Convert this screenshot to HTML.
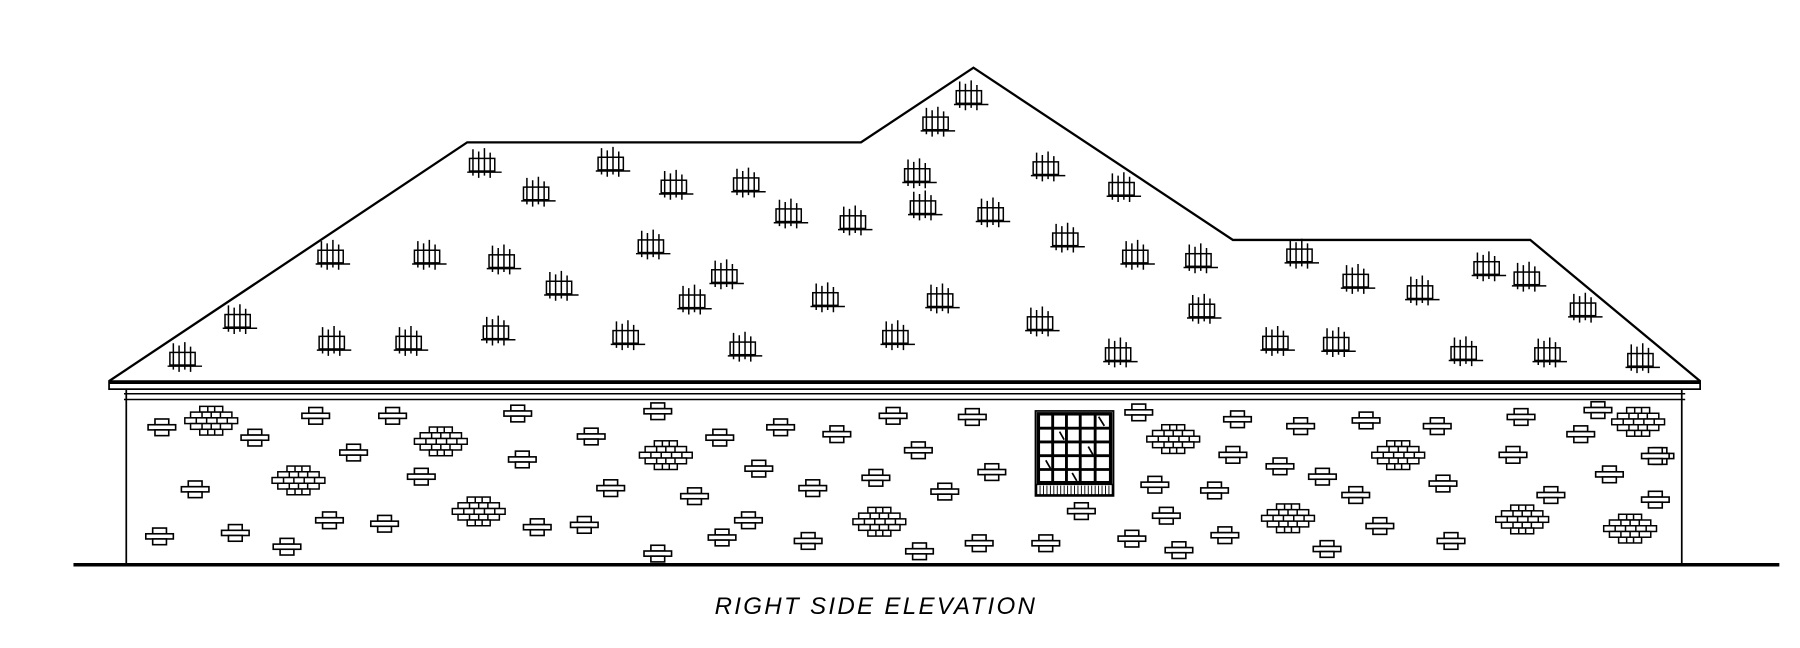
<!DOCTYPE html>
<html><head><meta charset="utf-8"><style>
html,body{margin:0;padding:0;background:#fff;}
svg{display:block;}
</style></head><body>
<svg width="1800" height="648" viewBox="0 0 1568 564.5" preserveAspectRatio="none" xmlns="http://www.w3.org/2000/svg">
<defs>
<g id="sh" fill="none" stroke="#000" stroke-width="1.3">
<rect x="-12" y="-5" width="22" height="11" fill="#fff"/>
<path d="M-9 -13V10 M-4 -11V12 M1 -14V10 M6 -10V12 M-14 7H16"/>
</g>
<g id="b" fill="#fff" stroke="#000" stroke-width="1.4">
<rect x="-6" y="-7" width="12" height="5"/>
<rect x="-12" y="-2" width="24" height="4.5"/>
<rect x="-6" y="2.5" width="12" height="5"/>
</g>
<g id="c" fill="#fff" stroke="#000" stroke-width="1.3">
<rect x="-10" y="-13" width="20" height="5"/>
<rect x="-18" y="-8" width="36" height="5"/>
<rect x="-23" y="-3" width="46" height="5"/>
<rect x="-18" y="2" width="36" height="5"/>
<rect x="-10" y="7" width="20" height="5"/>
<path d="M-3 -13v5 M3 -13v5 M-8 -8v5 M0 -8v5 M8 -8v5 M-13 -3v5 M-4 -3v5 M5 -3v5 M14 -3v5 M-8 2v5 M0 2v5 M8 2v5 M-3 7v5 M3 7v5"/>
</g>
</defs>
<!-- roof -->
<polyline points="95,332 407,124 750,124 848,59 1074,209 1333,209 1481,332" fill="none" stroke="#000" stroke-width="2"/>
<rect x="95" y="332" width="1386" height="7" fill="#fff" stroke="#000" stroke-width="1.5"/>
<line x1="95" y1="333" x2="1481" y2="333" stroke="#000" stroke-width="3"/>
<line x1="108" y1="343" x2="1468" y2="343" stroke="#000" stroke-width="1.3"/>
<line x1="108" y1="348" x2="1468" y2="348" stroke="#000" stroke-width="1.3"/>
<line x1="110" y1="339" x2="110" y2="492" stroke="#000" stroke-width="1.5"/>
<line x1="1465" y1="339" x2="1465" y2="492" stroke="#000" stroke-width="1.5"/>
<line x1="64" y1="492" x2="1550" y2="492" stroke="#000" stroke-width="3"/>
<!-- shingles -->
<g>
<use href="#sh" x="845" y="84"/><use href="#sh" x="816" y="107"/><use href="#sh" x="421" y="143"/><use href="#sh" x="533" y="142"/>
<use href="#sh" x="468" y="168"/><use href="#sh" x="588" y="162"/><use href="#sh" x="651" y="160"/><use href="#sh" x="800" y="152"/>
<use href="#sh" x="912" y="146"/><use href="#sh" x="978" y="164"/><use href="#sh" x="688" y="187"/><use href="#sh" x="744" y="193"/>
<use href="#sh" x="805" y="180"/><use href="#sh" x="864" y="186"/><use href="#sh" x="929" y="208"/><use href="#sh" x="289" y="223"/>
<use href="#sh" x="373" y="223"/><use href="#sh" x="438" y="227"/><use href="#sh" x="568" y="214"/><use href="#sh" x="632" y="240"/>
<use href="#sh" x="488" y="250"/><use href="#sh" x="604" y="262"/><use href="#sh" x="720" y="260"/><use href="#sh" x="820" y="261"/>
<use href="#sh" x="990" y="223"/><use href="#sh" x="1045" y="226"/><use href="#sh" x="1133" y="222"/><use href="#sh" x="1182" y="244"/>
<use href="#sh" x="1238" y="254"/><use href="#sh" x="1296" y="233"/><use href="#sh" x="1331" y="242"/><use href="#sh" x="1380" y="269"/>
<use href="#sh" x="1048" y="270"/><use href="#sh" x="208" y="279"/><use href="#sh" x="290" y="298"/><use href="#sh" x="357" y="298"/>
<use href="#sh" x="433" y="289"/><use href="#sh" x="546" y="293"/><use href="#sh" x="648" y="303"/><use href="#sh" x="781" y="293"/>
<use href="#sh" x="907" y="281"/><use href="#sh" x="975" y="308"/><use href="#sh" x="1112" y="298"/><use href="#sh" x="1165" y="299"/>
<use href="#sh" x="1276" y="307"/><use href="#sh" x="1349" y="308"/><use href="#sh" x="1430" y="313"/><use href="#sh" x="160" y="312"/>
</g>
<!-- bricks -->
<g>
<use href="#b" x="141" y="372"/><use href="#b" x="222" y="381"/><use href="#b" x="275" y="362"/><use href="#b" x="342" y="362"/>
<use href="#b" x="451" y="360"/><use href="#b" x="573" y="358"/><use href="#b" x="515" y="380"/><use href="#b" x="627" y="381"/>
<use href="#b" x="680" y="372"/><use href="#b" x="729" y="378"/><use href="#b" x="778" y="362"/><use href="#b" x="847" y="363"/>
<use href="#b" x="992" y="359"/><use href="#b" x="1078" y="365"/><use href="#b" x="1133" y="371"/><use href="#b" x="1190" y="366"/>
<use href="#b" x="1252" y="371"/><use href="#b" x="1325" y="363"/><use href="#b" x="1392" y="357"/><use href="#b" x="1377" y="378"/>
<use href="#b" x="308" y="394"/><use href="#b" x="455" y="400"/><use href="#b" x="800" y="392"/><use href="#b" x="1074" y="396"/>
<use href="#b" x="1115" y="406"/><use href="#b" x="1152" y="415"/><use href="#b" x="1318" y="396"/><use href="#b" x="1446" y="397"/>
<use href="#b" x="170" y="426"/><use href="#b" x="367" y="415"/><use href="#b" x="532" y="425"/><use href="#b" x="605" y="432"/>
<use href="#b" x="661" y="408"/><use href="#b" x="708" y="425"/><use href="#b" x="763" y="416"/><use href="#b" x="823" y="428"/>
<use href="#b" x="864" y="411"/><use href="#b" x="1006" y="422"/><use href="#b" x="1058" y="427"/><use href="#b" x="1181" y="431"/>
<use href="#b" x="1257" y="421"/><use href="#b" x="1402" y="413"/><use href="#b" x="1442" y="435"/><use href="#b" x="1351" y="431"/>
<use href="#b" x="139" y="467"/><use href="#b" x="205" y="464"/><use href="#b" x="250" y="476"/><use href="#b" x="287" y="453"/>
<use href="#b" x="335" y="456"/><use href="#b" x="468" y="459"/><use href="#b" x="509" y="457"/><use href="#b" x="573" y="482"/>
<use href="#b" x="629" y="468"/><use href="#b" x="652" y="453"/><use href="#b" x="704" y="471"/><use href="#b" x="801" y="480"/>
<use href="#b" x="853" y="473"/><use href="#b" x="911" y="473"/><use href="#b" x="942" y="445"/><use href="#b" x="986" y="469"/>
<use href="#b" x="1016" y="449"/><use href="#b" x="1027" y="479"/><use href="#b" x="1067" y="466"/><use href="#b" x="1156" y="478"/>
<use href="#b" x="1202" y="458"/><use href="#b" x="1264" y="471"/><use href="#b" x="1442" y="397"/>
</g>
<g>
<use href="#c" x="184" y="367"/><use href="#c" x="384" y="385"/><use href="#c" x="260" y="419"/><use href="#c" x="417" y="446"/>
<use href="#c" x="580" y="397"/><use href="#c" x="766" y="455"/><use href="#c" x="1022" y="383"/><use href="#c" x="1218" y="397"/>
<use href="#c" x="1122" y="452"/><use href="#c" x="1326" y="453"/><use href="#c" x="1427" y="368"/><use href="#c" x="1420" y="461"/>
</g>
<!-- window -->
<g stroke="#000" fill="none">
<rect x="902" y="358" width="68" height="74" fill="#fff" stroke-width="1.5"/>
<rect x="904.5" y="360.5" width="63" height="60" stroke-width="3"/>
<path d="M917 361V420 M929 361V420 M941 361V420 M954 361V420 M905 373H967 M905 385H967 M905 397H967 M905 409H967" stroke-width="2.5"/>
<path d="M957 363l5 8 M923 376l4 7 M948 389l4 7 M911 401l4 7 M934 412l4 7" stroke-width="1.5"/>
<path d="M903 422H969V431H903Z" stroke-width="1.2"/>
<path d="M906 423v8 M909 423v8 M912 423v8 M915 423v8 M918 423v8 M921 423v8 M924 423v8 M927 423v8 M930 423v8 M933 423v8 M936 423v8 M939 423v8 M942 423v8 M945 423v8 M948 423v8 M951 423v8 M954 423v8 M957 423v8 M960 423v8 M963 423v8 M966 423v8" stroke-width="0.8"/>
</g>
<text x="763" y="535" text-anchor="middle" font-family="Liberation Sans, sans-serif" font-style="italic" font-size="21" letter-spacing="2" fill="#000">RIGHT SIDE ELEVATION</text>
</svg>
</body></html>
